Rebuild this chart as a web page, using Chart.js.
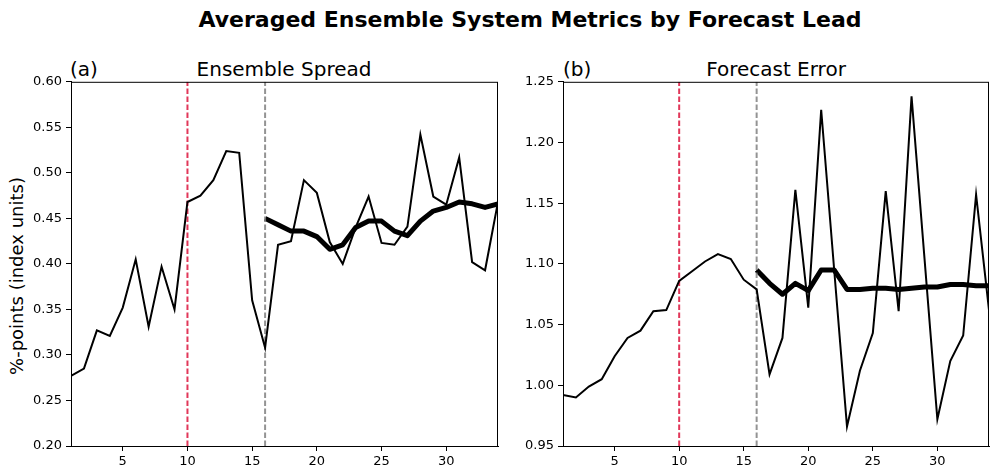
<!DOCTYPE html>
<html>
<head>
<meta charset="utf-8">
<script src="https://cdn.jsdelivr.net/npm/chart.js@4"></script>
<style>
  body { margin: 0; background: #fff; font-family: "DejaVu Sans", sans-serif; }
  #fig { position: relative; width: 1000px; height: 474px; overflow: hidden; }
  .box { position: absolute; top: 70px; width: 510px; height: 404px; }
  .txt { position: absolute; white-space: nowrap; color: #000; line-height: 1; }
</style>
</head>
<body>
<div id="fig">
  <div class="txt" style="left:530px; top:9px; transform:translateX(-50%); font-size:22px; font-weight:bold;">Averaged Ensemble System Metrics by Forecast Lead</div>
  <div class="txt" style="left:70px; top:59px; font-size:20px;">(a)</div>
  <div class="txt" style="left:284px; top:59px; transform:translateX(-50%); font-size:20px;">Ensemble Spread</div>
  <div class="txt" style="left:563px; top:59px; font-size:20px;">(b)</div>
  <div class="txt" style="left:776px; top:59px; transform:translateX(-50%); font-size:20px;">Forecast Error</div>
  <div class="txt" style="left:17px; top:276px; transform:translate(-50%,-50%) rotate(-90deg); font-size:18px;">%-points (index units)</div>
  <div class="box" style="left:0px;"><canvas id="spread"></canvas></div>
  <div class="box" style="left:492px;"><canvas id="error"></canvas></div>
</div>
<script>
// forecast lead (x)
const leads = [1,2,3,4,5,6,7,8,9,10,11,12,13,14,15,16,17,18,19,20,21,22,23,24,25,26,27,28,29,30,31,32,33,34];
const xTicks = [5, 10, 15, 20, 25, 30];
const refLines = [10, 16];

// (a) ensemble spread
const spreadRaw = [0.277,0.285,0.327,0.321,0.352,0.405,0.331,0.397,0.350,0.468,0.475,0.492,0.524,0.522,0.360,0.308,
  0.421,0.425,0.492,0.478,0.424,0.400,0.440,0.474,0.423,0.421,0.441,0.542,0.474,0.465,0.517,0.402,0.393,0.468];
const spreadSmooth = [0.450,0.443,0.436,0.436,0.430,0.416,0.421,0.440,0.447,0.447,0.436,0.431,0.447,0.458,0.462,0.468,0.466,0.462,0.466];
const spreadTicks = [0.20,0.25,0.30,0.35,0.40,0.45,0.50,0.55,0.60];

// (b) forecast error
const errorRaw = [0.992,0.990,0.999,1.005,1.024,1.039,1.045,1.061,1.062,1.086,1.094,1.102,1.108,1.104,1.087,1.079,
  1.009,1.039,1.161,1.064,1.227,1.096,0.966,1.012,1.043,1.160,1.061,1.238,1.105,0.972,1.020,1.041,1.157,1.062];
const errorSmooth = [1.095,1.084,1.075,1.084,1.078,1.095,1.095,1.079,1.079,1.080,1.080,1.079,1.080,1.081,1.081,1.083,1.083,1.082,1.082];
const errorTicks = [0.95,1.00,1.05,1.10,1.15,1.20,1.25];

const smoothStart = 16;

function pts(xs, ys) {
  return ys.map((v, i) => ({ x: xs[i], y: v }));
}

const frame = {
  id: 'frame',
  afterDraw(chart) {
    const a = chart.chartArea, c = chart.ctx;
    c.save();
    c.strokeStyle = '#000';
    c.lineWidth = 1;
    c.strokeRect(a.left + 0.5, a.top + 0.5, a.right - a.left - 1, a.bottom - a.top);
    c.restore();
  }
};

function makeChart(id, raw, smooth, yTicks, rightPad) {
  const ymin = yTicks[0], ymax = yTicks[yTicks.length - 1];
  const smoothX = leads.filter(l => l >= smoothStart);
  return new Chart(document.getElementById(id), {
    type: 'line',
    data: {
      datasets: [
        { data: pts(leads, raw), borderColor: '#000', borderWidth: 2, pointRadius: 0, tension: 0 },
        { data: [{x: refLines[0], y: ymin}, {x: refLines[0], y: ymax}], borderColor: 'rgba(220,20,60,0.85)', borderWidth: 2, borderDash: [5.5, 2.5], pointRadius: 0 },
        { data: [{x: refLines[1], y: ymin}, {x: refLines[1], y: ymax}], borderColor: 'rgba(128,128,128,0.85)', borderWidth: 2, borderDash: [5.5, 2.5], pointRadius: 0 },
        { data: pts(smoothX, smooth), borderColor: '#000', borderWidth: 5, pointRadius: 0, tension: 0, borderJoinStyle: 'round', borderCapStyle: 'butt' }
      ]
    },
    options: {
      responsive: true,
      maintainAspectRatio: false,
      animation: false,
      layout: { padding: { top: 11, right: rightPad, left: 0, bottom: 0 } },
      plugins: { legend: { display: false }, tooltip: { enabled: false } },
      scales: {
        x: {
          type: 'linear', min: 1, max: 34,
          afterBuildTicks: s => { s.ticks = xTicks.map(v => ({ value: v })); },
          afterFit: s => { s.height = 28; },
          grid: { drawOnChartArea: false, drawTicks: true, tickLength: 5, color: '#000' },
          border: { display: true, color: '#000' },
          ticks: { color: '#000', font: { family: 'DejaVu Sans', size: 13 }, padding: 3, maxRotation: 0 }
        },
        y: {
          min: ymin, max: ymax,
          afterBuildTicks: s => { s.ticks = yTicks.map(v => ({ value: v })); },
          afterFit: s => { s.width = 71; },
          grid: { drawOnChartArea: false, drawTicks: true, tickLength: 5, color: '#000' },
          border: { display: true, color: '#000' },
          ticks: { color: '#000', font: { family: 'DejaVu Sans', size: 13 }, padding: 4, callback: v => v.toFixed(2) }
        }
      }
    },
    plugins: [frame]
  });
}

makeChart('spread', spreadRaw, spreadSmooth, spreadTicks, 12);
makeChart('error', errorRaw, errorSmooth, errorTicks, 13);
</script>
</body>
</html>
